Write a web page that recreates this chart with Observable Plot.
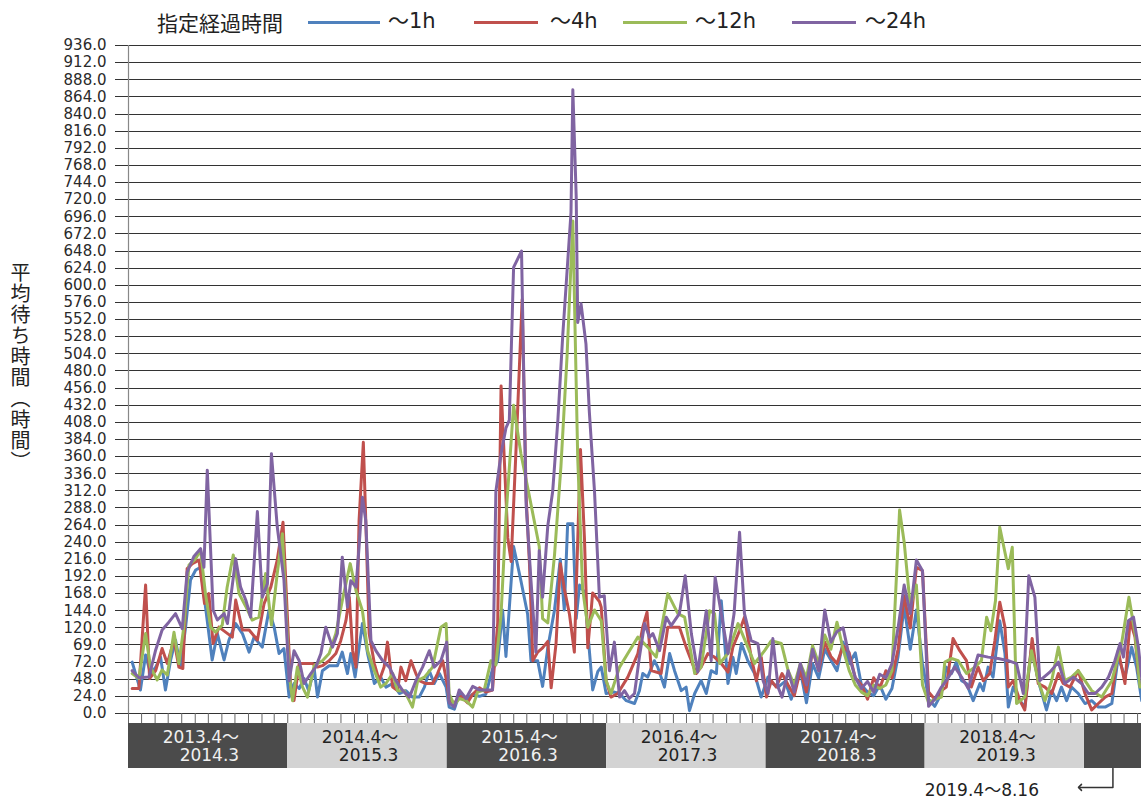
<!DOCTYPE html>
<html><head><meta charset="utf-8">
<script src="https://cdn.jsdelivr.net/npm/d3@7"></script>
<script src="https://cdn.jsdelivr.net/npm/@observablehq/plot@0.6"></script>
<style>
body{margin:0;background:#fff;width:1141px;height:800px;position:relative;overflow:hidden;font-family:"DejaVu Sans","Noto Sans CJK JP",sans-serif;}
#chart svg{display:block}
#legend{position:absolute;top:0;left:0;width:1141px;height:44px;}
.lt{position:absolute;top:8px;font-family:"Noto Sans CJK JP";font-size:21px;color:#222;line-height:28px;white-space:nowrap}
.lg{position:absolute;top:8px;font-size:21px;color:#222;line-height:27px;white-space:nowrap}
.sw{position:absolute;top:21px;height:3px}
#ytitle{position:absolute;left:10px;top:262px;writing-mode:vertical-rl;font-family:"Noto Sans CJK JP";font-size:20px;letter-spacing:1px;color:#222;line-height:20px}
</style></head>
<body>
<div id="chart"></div>
<div id="legend"></div>
<div id="ytitle">平均待ち時間（時間）</div>
<script>
// ---- data ----
const legendTitle = "指定経過時間";
const seriesNames = ["～1h", "～4h", "～12h", "～24h"];
const seriesColors = ["#4f81bd", "#c0504d", "#9bbb59", "#8064a2"];
const startDate = "2013-04-01";   // week 0
const endDate = "2019-08-10";     // right edge of the frame
const yTicks = d3.range(0, 937, 24);
const yTickLabels = ["0.0","24.0","48.0","72.0","69.0","120.0","144.0","168.0","192.0","216.0","240.0","264.0","288.0","312.0","336.0","360.0","384.0","408.0","432.0","456.0","480.0","504.0","528.0","552.0","576.0","600.0","624.0","648.0","672.0","696.0","720.0","744.0","768.0","792.0","816.0","840.0","864.0","888.0","912.0","936.0"];
const bandStarts = ["2013-04-01","2014-04-01","2015-04-01","2016-04-01","2017-04-01","2018-04-01","2019-04-01"];
const bandLabels = ["2013.4～\n2014.3","2014.4～\n2015.3","2015.4～\n2016.3","2016.4～\n2017.3","2017.4～\n2018.3","2018.4～\n2019.3",""];
const lastPeriodNote = "2019.4～8.16";

// [week since 2013-04-01, hours]
const h1 = [[1.2,72],[3.9,33],[5.6,82],[7.2,56],[8.9,65],[10.5,79],[12.1,33],[13.8,75],[15.4,103],[17,65],[18.7,121],[20.3,187],[22,201],[23.6,205],[25.2,150],[27.4,75],[29.1,112],[31.3,75],[32.9,103],[35.1,126],[37.3,112],[39.5,86],[41.1,107],[43.8,93],[46,145],[47.7,121],[49.3,84],[50.9,91],[52.6,23],[54.2,42],[55.9,35],[57.5,49],[59,32],[60.8,63],[61.9,23],[63.5,60],[65.7,67],[68.4,67],[70,86],[71.7,56],[72.8,84],[74.2,51],[76.6,126],[78.3,84],[80.5,42],[82.6,51],[84.3,37],[86.5,42],[88.7,28],[90.8,32],[93,23],[95.2,23],[96.9,37],[98.5,60],[100.1,42],[101.8,56],[104,37],[105,9],[106.7,6],[108.3,27],[111,21],[112.7,27],[114.9,24],[117,27],[119.2,62],[120.9,74],[122.5,145],[123.6,80],[126.1,234],[128.5,186],[130.7,139],[131.8,74],[134,74],[135.6,38],[137.3,92],[139.5,145],[141.4,216],[142.7,145],[143.8,266],[145.5,266],[146.6,133],[147.7,180],[149.3,170],[152,33],[153.7,59],[154.8,65],[156.4,28],[159.1,30],[160.8,28],[163,18],[165.7,14],[167.3,32],[168.4,56],[170,51],[172.2,74],[173.3,65],[175.5,37],[177.2,84],[178.8,60],[181,32],[182.6,37],[183.7,4],[185.4,28],[187.5,46],[189.2,28],[190.8,60],[192.5,56],[194.1,158],[196.3,42],[197.9,79],[199,56],[200.7,98],[202.8,74],[205,56],[207.2,23],[209.4,51],[211,42],[212.7,37],[215,45],[217,20],[220,60],[222,15],[224,70],[226,50],[228,90],[230,75],[232,60],[234,100],[236,70],[238,85],[240,40],[242,30],[244,25],[246,40],[248,20],[250,35],[252,80],[254,150],[256,90],[258,145],[260,70],[262,20],[264,10],[266.2,28],[267.8,65],[269.5,56],[271.1,72],[272.8,46],[274.4,42],[276.6,18],[278.8,42],[279.9,32],[281.5,65],[283.1,51],[285.3,130],[287,84],[288.1,9],[289.7,37],[291.9,18],[293.5,9],[295.7,93],[297.9,46],[300.6,5],[302.3,32],[303.9,18],[305.5,37],[307.2,18],[308.8,37],[311,28],[313.2,14],[315.4,18],[317.6,9],[319.8,9],[322,14],[324.1,79],[326.3,51],[328.5,93],[330.1,65],[331.8,18]];
const h4 = [[1.2,35],[3.4,35],[5.6,180],[6.9,49],[8.9,60],[11,91],[12.7,70],[14.9,103],[16.5,65],[17.8,63],[19.2,203],[20.9,210],[23.1,215],[24.9,154],[26.3,168],[27.7,98],[29.6,121],[31.8,114],[34,107],[35.1,159],[37.3,117],[39.5,117],[42.2,103],[44.4,154],[46.6,177],[48.7,215],[50.6,268],[53.1,37],[54.2,18],[55.9,70],[58,70],[60.2,70],[61.9,65],[63.5,67],[65.7,74],[67.9,84],[69.5,102],[71.2,130],[72.3,163],[73.4,88],[74.5,65],[75.5,270],[76.9,380],[77.7,270],[78.8,112],[80.5,70],[82.1,46],[83.7,65],[84.8,100],[86.5,37],[88.1,32],[89.2,65],[90.8,46],[92.5,74],[94.1,56],[95.2,46],[97.4,42],[99.6,42],[101.2,56],[102.9,74],[104.5,37],[105,18],[106.7,15],[108.9,24],[111,15],[112.7,27],[114.9,36],[117,30],[119.2,33],[120.9,127],[122,459],[123.1,352],[124.2,246],[125.3,213],[126.9,370],[128.9,580],[130.2,305],[131.3,210],[132.4,74],[134,86],[135.6,92],[137.3,101],[138.4,36],[140,98],[141.4,210],[142.7,175],[144.4,139],[146,86],[148,370],[149.3,246],[150.4,92],[152,169],[154.2,157],[154.8,149],[156.4,46],[158,23],[160.2,28],[163.5,51],[166.8,84],[168.4,121],[169.8,142],[171.2,60],[174.4,56],[176.6,121],[180.4,121],[182.6,93],[185.9,56],[187.5,65],[189.7,84],[191.9,79],[194.1,70],[196.3,58],[197.9,93],[200.1,116],[201.7,135],[203.9,79],[205.6,46],[207.2,79],[208.9,23],[210.5,46],[212.1,37],[214,56],[216,40],[218,25],[220,60],[222,30],[224,90],[226,60],[228,100],[230,80],[232,70],[234,95],[236,85],[238,50],[240,40],[242,20],[244,50],[246,35],[248,60],[250,50],[252,90],[254,165],[256,120],[258,205],[260,200],[262,30],[264,20],[266.2,32],[267.8,37],[270,105],[272.2,88],[274.4,74],[276,37],[278.2,65],[279.9,46],[282,56],[283.7,102],[285.3,156],[287,121],[288.1,37],[289.7,46],[291.9,18],[293.5,5],[295.9,105],[297.9,42],[300.1,37],[302.3,28],[304.5,56],[306.1,42],[308.3,37],[311,60],[313.2,28],[315.4,5],[317.6,14],[319.8,23],[322,28],[324.1,88],[326.3,42],[328,130],[329.6,107],[330.7,56],[332.1,56]];
const h12 = [[1.2,56],[3.4,49],[5.6,112],[7.2,65],[9.4,47],[11,61],[12.7,54],[14.9,114],[16.5,70],[18.1,121],[19.8,208],[22,217],[23.6,229],[25.2,168],[26.9,121],[28.5,114],[30.7,124],[32.3,177],[34.3,222],[36.2,168],[38.4,150],[40.5,131],[42.7,135],[44.9,196],[46.8,124],[48.7,196],[50.4,252],[52.6,56],[53.7,18],[55.3,65],[57,37],[58.6,23],[60.8,67],[63.5,74],[65.7,84],[67.9,112],[70,158],[72.6,210],[74.5,172],[76.6,144],[78.3,88],[80.5,60],[82.6,37],[84.3,42],[86.5,56],[88.1,32],[90.3,32],[93,9],[94.7,46],[96.9,51],[99.6,65],[102.3,121],[104,126],[105,27],[106.7,12],[108.3,21],[110.5,18],[112.7,9],[114.3,30],[116.5,33],[118.7,74],[120.3,68],[122,139],[123.6,275],[126.1,432],[128.5,364],[130.7,317],[134.5,234],[135.6,133],[137.3,127],[139.5,222],[141.6,346],[143.6,500],[145.5,690],[147.1,358],[148.7,175],[150.4,121],[152.6,145],[154.8,130],[156.4,46],[158,28],[160.8,65],[163.5,84],[166.8,107],[170,93],[172.8,79],[176.6,168],[179.9,140],[182.1,135],[185.4,56],[187.5,65],[190.3,144],[191.9,140],[193.6,70],[196.3,84],[199.6,126],[202.8,93],[205,70],[208.3,88],[210.5,102],[213.8,98],[216,60],[218,40],[220,70],[222,50],[224,95],[226,70],[228,110],[230,90],[232,128],[234,90],[236,60],[238,40],[240,30],[242,25],[244,40],[246,35],[248,40],[250,60],[252.5,285],[254,240],[256,150],[258,180],[260,40],[262,15],[264,20],[266.2,23],[267.3,72],[269.5,77],[271.7,74],[274.4,56],[277.1,65],[279.3,74],[281,135],[282.4,116],[283.9,158],[285.3,261],[288.1,203],[289.4,233],[290.8,14],[293.5,23],[295.7,88],[297.9,46],[300.1,18],[302.3,46],[304.5,93],[306.6,46],[308.8,51],[311,60],[315.4,32],[318.7,23],[322,46],[325.2,98],[327.6,163],[329.6,112],[331.2,37]];
const h24 = [[1.2,60],[3.4,50],[6.7,51],[8.9,89],[11,117],[13.2,128],[15.4,140],[17.6,119],[19.2,198],[21.4,220],[23.6,231],[24.7,205],[25.8,341],[27.7,145],[29.1,131],[31.3,140],[32.4,126],[35.1,217],[36.7,177],[38.4,159],[40,135],[42.2,283],[43.8,163],[45.5,182],[46.8,364],[48.7,262],[50.9,187],[52.6,46],[54.2,88],[55.9,74],[57.5,42],[59.7,56],[61.3,65],[63,84],[64.6,121],[66.8,93],[68.4,112],[70,219],[71.7,149],[72.8,186],[74.5,177],[75.5,233],[76.6,303],[77.7,270],[79.4,102],[81,88],[83.2,74],[85.4,65],[87.6,46],[89.8,32],[92,23],[94.1,46],[96.3,65],[98.5,88],[100.1,65],[102.3,74],[104.2,100],[105,15],[106.7,9],[108.3,33],[110.5,21],[112.7,38],[114.9,33],[117,33],[119.2,33],[120.3,311],[122,364],[123.6,400],[124.7,411],[126.1,625],[128.7,648],[130.2,293],[131.8,186],[133.4,86],[134.5,228],[135.6,163],[137.3,263],[138.9,311],[140.6,411],[142.2,530],[143.6,619],[144.9,702],[145.5,874],[146.6,725],[147.1,548],[148.2,574],[149.8,518],[150.9,423],[152.6,311],[154.2,163],[155.8,165],[157.5,60],[159.1,100],[160.8,23],[162.4,32],[164,21],[165.7,28],[167.3,79],[169,126],[170.6,107],[171.7,112],[173.9,88],[176.1,135],[177.7,123],[180.4,140],[182.3,193],[184.3,112],[186.4,58],[189.2,144],[190.8,74],[192.1,191],[194.1,140],[196.3,84],[198.3,140],[200.1,254],[201.7,140],[203.9,102],[206.1,98],[207.8,46],[209.4,28],[211,105],[212.7,37],[214,23],[216,60],[218,30],[220,70],[222,40],[224,90],[226,60],[228,145],[230,100],[232,115],[234,120],[236,80],[238,50],[240,35],[242,45],[244,30],[246,55],[248,50],[250,70],[252,120],[254,180],[256,140],[258,215],[260,200],[262,10],[264,20],[266.2,37],[267.8,46],[270.6,65],[272.8,51],[275,35],[278.2,82],[281.5,79],[284.8,77],[288.1,74],[290.8,70],[293,28],[294.8,193],[296.8,163],[298.4,46],[301.7,58],[304.5,72],[306.6,42],[309.4,51],[312.1,42],[314.3,28],[316.5,28],[318.7,37],[320.9,51],[323,74],[324.7,98],[325.8,79],[327.4,130],[329.1,135],[330.7,93],[332.1,37]];
const seriesData = [h1, h4, h12, h24];

// ---- build ----
const parse = d3.utcParse("%Y-%m-%d");
const t0 = parse(startDate), t1 = parse(endDate);
const toDate = w => new Date(+t0 + w * 7 * 864e5);
const rows = [];
seriesNames.forEach((name, i) => seriesData[i].forEach(([w, v]) => rows.push({name, date: toDate(w), value: v})));
const months = d3.utcMonth.range(t0, d3.utcDay.offset(t1, 1));
const font = '"DejaVu Sans", "Noto Sans CJK JP", sans-serif';

const main = Plot.plot({
  width: 1141, height: 723,
  marginTop: 45, marginBottom: 10, marginLeft: 128, marginRight: 0,
  style: {fontFamily: font, fontSize: "15px", color: "#333", background: "transparent", overflow: "visible"},
  x: {type: "utc", domain: [t0, t1], label: null},
  y: {domain: [0, 936], label: null},
  color: {domain: seriesNames, range: seriesColors},
  marks: [
    Plot.gridY({ticks: yTicks, stroke: "#333", strokeOpacity: 1, strokeWidth: 1, shapeRendering: "crispEdges"}),
    Plot.axisY({ticks: yTicks, tickSize: 13, tickPadding: 9, stroke: "#333", fill: "#2a2a2a", label: null,
      shapeRendering: "crispEdges", tickFormat: d => yTickLabels[yTicks.indexOf(d)]}),
    Plot.axisX({ticks: months, tickSize: 10, tickFormat: () => "", stroke: "#666", label: null}),
    Plot.ruleX([t0], {stroke: "#888", strokeWidth: 1.2}),
    Plot.line(rows, {x: "date", y: "value", z: "name", stroke: "name", strokeWidth: 3, strokeLinejoin: "round", clip: true})
  ]
});

const bands = bandStarts.map((s, i) => ({
  start: parse(s),
  end: i < bandStarts.length - 1 ? parse(bandStarts[i + 1]) : t1,
  label: bandLabels[i],
  dark: i % 2 === 0
}));
bands.forEach(b => b.mid = new Date((+b.start + +b.end) / 2));
const last = bands[bands.length - 1];
const tip = d3.utcDay.offset(last.start, -10);
const arrowPts = [{x: last.mid, y: 0}, {x: last.mid, y: -0.42}, {x: tip, y: -0.42}];

const strip = Plot.plot({
  width: 1141, height: 77,
  marginTop: 0, marginBottom: 32, marginLeft: 128, marginRight: 0,
  style: {fontFamily: font, fontSize: "17px", background: "transparent", overflow: "visible"},
  x: {type: "utc", domain: [t0, t1], axis: null},
  y: {domain: [0, 1], axis: null},
  marks: [
    Plot.rect(bands, {filter: d => d.dark, x1: "start", x2: "end", y1: 0, y2: 1, fill: "#4b4b4b"}),
    Plot.rect(bands, {filter: d => !d.dark, x1: "start", x2: "end", y1: 0, y2: 1, fill: "#d3d3d3"}),
    Plot.text(bands, {filter: d => d.dark && d.label, x: "mid", y: 0.5, text: "label", textAnchor: "end", dx: 31, lineHeight: 1.06, fill: "#f0f0f0"}),
    Plot.text(bands, {filter: d => !d.dark && d.label, x: "mid", y: 0.5, text: "label", textAnchor: "end", dx: 31, lineHeight: 1.06, fill: "#222"}),
    Plot.line(arrowPts, {x: "x", y: "y", stroke: "#333", strokeWidth: 1.5, markerEnd: "arrow"}),
    Plot.text([lastPeriodNote], {x: tip, y: -0.49, text: d => d, textAnchor: "end", dx: -41, fill: "#222"})
  ]
});

const chart = document.getElementById("chart");
chart.append(main, strip);

// legend
const legend = document.getElementById("legend");
const titleEl = document.createElement("div");
titleEl.className = "lt"; titleEl.style.left = "157px"; titleEl.textContent = legendTitle;
legend.append(titleEl);
const swLeft = [308, 474, 623, 792], swWidth = [72, 64, 64, 64], lbLeft = [388, 550, 695, 865];
seriesNames.forEach((n, i) => {
  const sw = document.createElement("div");
  sw.className = "sw"; sw.style.left = swLeft[i] + "px"; sw.style.width = swWidth[i] + "px"; sw.style.background = seriesColors[i];
  const lb = document.createElement("div");
  lb.className = "lg"; lb.style.left = lbLeft[i] + "px"; lb.textContent = n;
  legend.append(sw, lb);
});
</script>
</body></html>
